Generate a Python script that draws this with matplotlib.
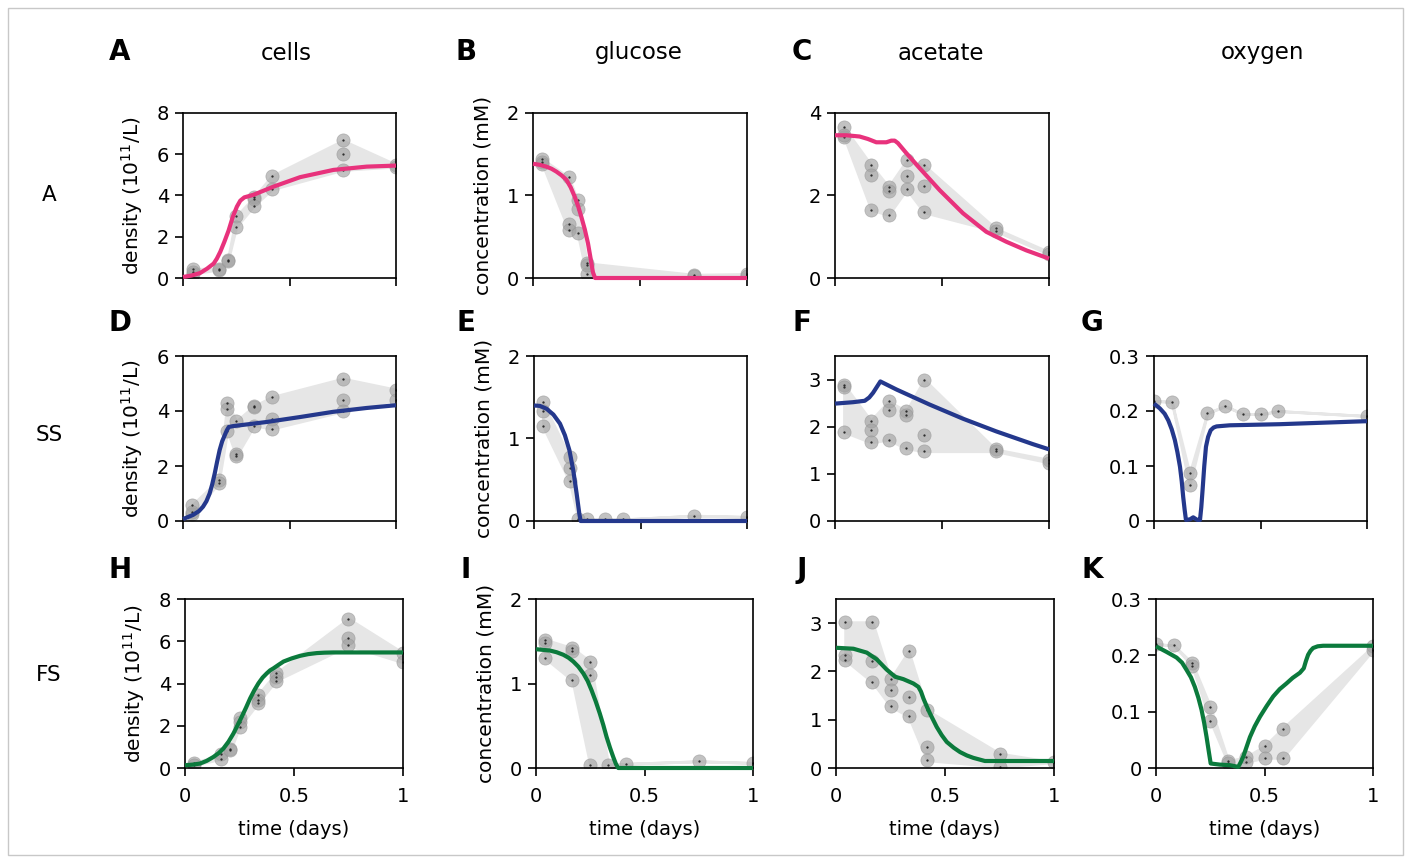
import numpy as np
import matplotlib
matplotlib.use('Agg')
from matplotlib import pyplot as plt
from matplotlib.patches import Rectangle

W, H = 1411, 863

PINK = '#e8327c'
BLUE = '#24388c'
GREEN = '#0b7a3c'
SHADE = '#e6e6e6'

# ---- data: sample times (days), replicate values, model curves ----
# A: cells, aerobic
a_t = [0.045, 0.167, 0.21, 0.25, 0.333, 0.417, 0.75, 1.0]
a_y = [[0.45, 0.21, 0.3], [0.41, 0.45], [0.89, 0.8], [3.0, 2.48], [3.91, 3.85, 3.51],
       [4.95, 4.3], [6.67, 6.02, 5.24], [5.5, 5.4]]
a_ct = [0, 0.04, 0.08, 0.1125, 0.144, 0.159, 0.175, 0.194, 0.214, 0.234, 0.253, 0.269,
        0.288, 0.33, 0.425, 0.55, 0.706, 0.862, 1.0]
a_cy = [0.05, 0.12, 0.24, 0.45, 0.7, 0.94, 1.27, 1.75, 2.3, 2.97, 3.46, 3.75,
        3.91, 4.03, 4.43, 4.89, 5.24, 5.4, 5.45]

# B: glucose, aerobic
b_t = [0.044, 0.167, 0.208, 0.25, 0.75, 1.0]
b_y = [[1.44, 1.41, 1.38], [1.22, 0.66, 0.58], [0.945, 0.84, 0.55], [0.18, 0.045, 0.16],
       [0.04, 0.03], [0.05, 0.03]]
b_ct = [0, 0.031, 0.062, 0.086, 0.109, 0.133, 0.156, 0.176, 0.195, 0.211, 0.226, 0.242,
        0.257, 0.269, 0.28, 0.29, 1.0]
b_cy = [1.385, 1.372, 1.35, 1.325, 1.29, 1.245, 1.19, 1.1, 0.985, 0.87, 0.74, 0.59,
        0.42, 0.24, 0.07, 0.0, 0.0]

# C: acetate, aerobic
c_t = [0.042, 0.17, 0.25, 0.335, 0.417, 0.75, 1.0]
c_y = [[3.65, 3.43, 3.47], [2.73, 2.5, 1.65], [2.21, 2.12, 1.53], [2.85, 2.47, 2.15],
       [2.73, 2.23, 1.59], [1.2, 1.14], [0.63, 0.58]]
c_ct = [0, 0.053, 0.115, 0.154, 0.193, 0.24, 0.263, 0.279, 0.294, 0.333, 0.396, 0.489,
        0.598, 0.707, 0.8, 0.894, 1.0]
c_cy = [3.46, 3.46, 3.43, 3.37, 3.29, 3.29, 3.33, 3.33, 3.27, 3.03, 2.66, 2.13,
        1.57, 1.12, 0.88, 0.67, 0.47]

# D: cells, SS
d_t = [0.042, 0.167, 0.208, 0.25, 0.333, 0.417, 0.75, 1.0]
d_y = [[0.58, 0.25, 0.34], [1.49, 1.37], [4.3, 4.06, 3.28], [3.63, 2.45, 2.37],
       [4.18, 4.15, 3.47], [4.51, 3.72, 3.36], [5.18, 4.39, 3.99], [4.78, 4.41]]
d_ct = [0, 0.047, 0.075, 0.094, 0.11, 0.125, 0.137, 0.149, 0.16, 0.172, 0.184, 0.196,
        0.206, 0.215, 0.235, 0.392, 0.549, 0.705, 0.862, 1.0]
d_cy = [0.07, 0.22, 0.36, 0.52, 0.72, 1.0, 1.33, 1.73, 2.15, 2.58, 2.9, 3.12,
        3.3, 3.42, 3.45, 3.6, 3.78, 3.97, 4.11, 4.21]

# E: glucose, SS
e_t = [0.042, 0.167, 0.208, 0.25, 0.333, 0.417, 0.75, 1.0]
e_y = [[1.44, 1.33, 1.15], [0.77, 0.64, 0.48], [0.02], [0.02], [0.02], [0.02], [0.065], [0.05]]
e_ct = [0, 0.028, 0.059, 0.091, 0.122, 0.145, 0.166, 0.184, 0.2, 0.2125, 0.219, 1.0]
e_cy = [1.40, 1.395, 1.36, 1.29, 1.18, 1.04, 0.86, 0.62, 0.335, 0.093, 0.0, 0.0]

# F: acetate, SS
f_t = [0.042, 0.167, 0.25, 0.333, 0.417, 0.75, 1.0]
f_y = [[2.89, 2.84, 1.89], [2.13, 1.92, 1.67], [2.54, 2.35, 1.72], [2.33, 2.24, 1.54],
       [3.0, 1.83, 1.48], [1.52, 1.48], [1.3, 1.24]]
f_ct = [0, 0.084, 0.139, 0.16, 0.178, 0.212, 0.287, 0.442, 0.598, 0.754, 0.925, 1.0]
f_cy = [2.49, 2.52, 2.55, 2.62, 2.72, 2.96, 2.79, 2.47, 2.17, 1.9, 1.63, 1.52]

# G: oxygen, SS
g_t = [0.0, 0.083, 0.167, 0.25, 0.333, 0.417, 0.5, 0.583, 1.0]
g_y = [[0.218], [0.217], [0.0865, 0.065], [0.196], [0.209], [0.195], [0.194], [0.2], [0.191]]
g_ct = [0, 0.028, 0.05, 0.067, 0.083, 0.098, 0.11, 0.122, 0.13, 0.137, 0.144, 0.15, 0.169,
        0.184, 0.203, 0.216, 0.222, 0.228, 0.236, 0.244, 0.254, 0.266, 0.28, 0.294,
        0.356, 0.59, 1.0]
g_cy = [0.2135, 0.2045, 0.195, 0.183, 0.167, 0.147, 0.125, 0.0986, 0.073, 0.044, 0.02,
        0.002, 0.003, 0.0067, 0.002, 0.002, 0.025, 0.056, 0.1, 0.135, 0.153, 0.165,
        0.17, 0.172, 0.174, 0.176, 0.1815]

# H: cells, FS
h_t = [0.04, 0.167, 0.208, 0.25, 0.333, 0.417, 0.75, 1.0]
h_y = [[0.24, 0.13], [0.65, 0.44], [0.92, 0.84], [2.35, 2.2, 1.95], [3.45, 3.2, 3.06],
       [4.48, 4.3, 4.14], [7.07, 6.15, 5.8], [5.45, 5.0]]
h_ct = [0, 0.035, 0.069, 0.1, 0.13, 0.155, 0.176, 0.2, 0.222, 0.24, 0.26, 0.28, 0.299,
        0.318, 0.337, 0.356, 0.375, 0.39, 0.406, 0.43, 0.452, 0.49, 0.528, 0.565,
        0.605, 0.64, 0.681, 1.0]
h_cy = [0.13, 0.16, 0.21, 0.34, 0.52, 0.71, 0.92, 1.25, 1.63, 2.0, 2.42, 2.86, 3.3,
        3.68, 4.01, 4.28, 4.48, 4.62, 4.72, 4.89, 5.04, 5.19, 5.31, 5.39,
        5.44, 5.46, 5.47, 5.47]

# I: glucose, FS
i_t = [0.042, 0.167, 0.25, 0.333, 0.417, 0.75, 1.0]
i_y = [[1.52, 1.48, 1.3], [1.42, 1.39, 1.04], [1.26, 1.1, 0.03], [0.04], [0.05], [0.08], [0.06]]
i_ct = [0, 0.064, 0.095, 0.126, 0.15, 0.172, 0.195, 0.218, 0.238, 0.256, 0.275, 0.294,
        0.31, 0.325, 0.341, 0.356, 0.368, 0.379, 1.0]
i_cy = [1.406, 1.39, 1.37, 1.34, 1.305, 1.26, 1.2, 1.12, 1.03, 0.92, 0.79, 0.645,
        0.51, 0.37, 0.24, 0.13, 0.05, 0.0, 0.0]

# J: acetate, FS
j_t = [0.042, 0.167, 0.25, 0.333, 0.417, 0.75, 1.0]
j_y = [[3.02, 2.34, 2.24], [3.02, 2.22, 1.78], [1.84, 1.61, 1.28], [2.42, 1.48, 1.07],
       [1.2, 0.44, 0.16], [0.3, 0.03], [0.12]]
j_ct = [0, 0.08, 0.141, 0.187, 0.232, 0.271, 0.309, 0.355, 0.378, 0.39, 0.401, 0.415,
        0.431, 0.462, 0.485, 0.508, 0.54, 0.569, 0.6, 0.63, 0.683, 1.0]
j_cy = [2.49, 2.47, 2.39, 2.25, 2.04, 1.89, 1.84, 1.75, 1.68, 1.58, 1.44, 1.29,
        1.13, 0.85, 0.68, 0.54, 0.42, 0.33, 0.26, 0.21, 0.145, 0.145]

# K: oxygen, FS
k_t = [0.0, 0.083, 0.167, 0.25, 0.333, 0.417, 0.5, 0.583, 1.0]
k_y = [[0.22], [0.2175], [0.186, 0.181], [0.109, 0.084], [0.012, 0.008], [0.02, 0.011],
       [0.039, 0.018], [0.07, 0.018], [0.216, 0.21]]
k_ct = [0, 0.049, 0.095, 0.12, 0.141, 0.161, 0.179, 0.195, 0.21, 0.222, 0.233, 0.243,
        0.252, 0.294, 0.34, 0.379, 0.39, 0.402, 0.417, 0.433, 0.455, 0.479, 0.51, 0.54,
        0.57, 0.601, 0.63, 0.663, 0.681, 0.691, 0.701, 0.712, 0.724, 0.745, 0.77, 1.0]
k_cy = [0.216, 0.206, 0.196, 0.187, 0.174, 0.161, 0.144, 0.125, 0.103, 0.08, 0.055, 0.03,
        0.008, 0.006, 0.005, 0.002, 0.01, 0.02, 0.037, 0.055, 0.074, 0.091, 0.11, 0.127,
        0.14, 0.15, 0.16, 0.169, 0.177, 0.19, 0.201, 0.208, 0.213, 0.216, 0.217, 0.217]

col_titles = ['cells', 'glucose', 'acetate', 'oxygen']
row_titles = ['A', 'SS', 'FS']

# ---- figure ----
fig = plt.figure(figsize=(W / 100, H / 100), dpi=100)
fig.patches.append(Rectangle((8 / W, 8 / H), 1395 / W, 847 / H, transform=fig.transFigure,
                             fill=False, edgecolor='#c8c8c8', lw=1))


def px_axes(l, t, r, b):
    return fig.add_axes([l / W, 1 - b / H, (r - l) / W, (b - t) / H])


def panel(rect, t, reps, ct, cy, color, ylim, yticks, yticklabels, ylabel=None,
          bottom=False, ylab_x=-0.18):
    ax = px_axes(*rect)
    lo = [min(r) for r in reps]
    hi = [max(r) for r in reps]
    ax.fill_between(t, lo, hi, color=SHADE, edgecolor=SHADE, lw=2, zorder=1)
    for ti, r in zip(t, reps):
        ax.plot([ti] * len(r), r, 'o', ms=9.5, color='#a2a2a2', alpha=0.65,
                mec='#959595', mew=0.5, zorder=2)
        ax.plot([ti] * len(r), r, '.', ms=1.2, color='#222222', zorder=2)
    ax.plot(ct, cy, color=color, lw=3, zorder=4, clip_on=False, solid_capstyle='butt',
            solid_joinstyle='round')
    ax.set_xlim(0, 1)
    ax.set_ylim(*ylim)
    ax.set_yticks(yticks)
    ax.set_yticklabels(yticklabels)
    ax.set_xticks([0, 0.5, 1])
    ax.tick_params(top=False, right=False, direction='out', length=6, width=1.2,
                   labelsize=14, pad=4)
    ax.tick_params(axis='x', pad=8)
    for s in ax.spines.values():
        s.set_linewidth(1.2)
    if bottom:
        ax.set_xticklabels(['0', '0.5', '1'])
        ax.set_xlabel('time (days)', fontsize=14, labelpad=10)
    else:
        ax.set_xticklabels([])
    if ylabel:
        ax.set_ylabel(ylabel, fontsize=14.5)
        ax.yaxis.set_label_coords(ylab_x, 0.5)
    return ax


dens = 'density (10$^{11}$/L)'
conc = 'concentration (mM)'

panel((183, 113, 396, 278), a_t, a_y, a_ct, a_cy, PINK, (0, 8), [0, 2, 4, 6, 8],
      ['0', '2', '4', '6', '8'], dens, ylab_x=-0.18)
panel((533, 113, 747, 278), b_t, b_y, b_ct, b_cy, PINK, (0, 2), [0, 1, 2],
      ['0', '1', '2'], conc, ylab_x=-0.19)
panel((835, 113, 1049, 278), c_t, c_y, c_ct, c_cy, PINK, (0, 4), [0, 2, 4], ['0', '2', '4'])

panel((183, 356, 396, 521), d_t, d_y, d_ct, d_cy, BLUE, (0, 6), [0, 2, 4, 6],
      ['0', '2', '4', '6'], dens, ylab_x=-0.18)
panel((534, 356, 747, 521), e_t, e_y, e_ct, e_cy, BLUE, (0, 2), [0, 1, 2],
      ['0', '1', '2'], conc, ylab_x=-0.19)
panel((835, 356, 1049, 521), f_t, f_y, f_ct, f_cy, BLUE, (0, 3.5), [0, 1, 2, 3],
      ['0', '1', '2', '3'])
panel((1154, 356, 1367, 521), g_t, g_y, g_ct, g_cy, BLUE, (0, 0.3), [0, 0.1, 0.2, 0.3],
      ['0', '0.1', '0.2', '0.3'])

panel((185, 599, 403, 768), h_t, h_y, h_ct, h_cy, GREEN, (0, 8), [0, 2, 4, 6, 8],
      ['0', '2', '4', '6', '8'], dens, bottom=True, ylab_x=-0.175)
panel((536, 599, 753, 768), i_t, i_y, i_ct, i_cy, GREEN, (0, 2), [0, 1, 2],
      ['0', '1', '2'], conc, bottom=True, ylab_x=-0.185)
panel((836, 599, 1054, 768), j_t, j_y, j_ct, j_cy, GREEN, (0, 3.5), [0, 1, 2, 3],
      ['0', '1', '2', '3'], bottom=True)
panel((1156, 599, 1373, 768), k_t, k_y, k_ct, k_cy, GREEN, (0, 0.3), [0, 0.1, 0.2, 0.3],
      ['0', '0.1', '0.2', '0.3'], bottom=True)

# column headers
for x, s in zip([286, 639, 941, 1263], col_titles):
    fig.text(x / W, 1 - 53 / H, s, ha='center', va='center', fontsize=16.5)

# row labels
for y, s in zip([195, 435, 675], row_titles):
    fig.text(49 / W, 1 - y / H, s, ha='center', va='center', fontsize=15.5)

# panel letters
letters = [('A', 120, 52), ('B', 466, 52), ('C', 802, 52),
           ('D', 120, 323), ('E', 466, 323), ('F', 802, 323), ('G', 1092, 323),
           ('H', 120, 570), ('I', 466, 570), ('J', 802, 570), ('K', 1092, 570)]
for s, x, y in letters:
    fig.text(x / W, 1 - y / H, s, ha='center', va='center', fontsize=20, fontweight='bold')

fig.savefig('out.png', dpi=100)
